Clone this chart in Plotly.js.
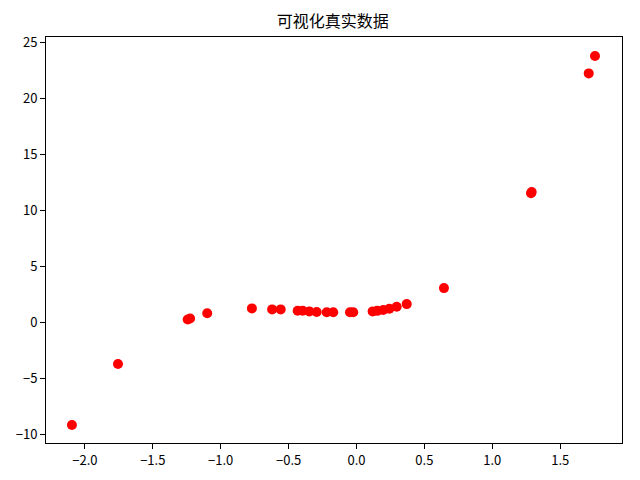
<!DOCTYPE html>
<html>
<head>
<meta charset="utf-8">
<script src="https://cdn.plot.ly/plotly-3.0.1.min.js"></script>
<style>html,body{margin:0;padding:0;background:#fff;}#chart{width:640px;height:480px;}</style>
</head>
<body>
<div id="chart"></div>
<script>
const chartTitle = "可视化真实数据";
const xValues = [-2.095, -1.756, -1.243, -1.225, -1.099, -0.770, -0.621, -0.558, -0.433, -0.396, -0.347, -0.293, -0.219, -0.171, -0.048, -0.024, 0.119, 0.153, 0.197, 0.242, 0.296, 0.370, 0.644, 1.290, 1.285, 1.710, 1.756];
const yValues = [-9.2, -3.75, 0.22, 0.32, 0.78, 1.22, 1.13, 1.13, 1.01, 1.01, 0.95, 0.89, 0.87, 0.87, 0.87, 0.87, 0.95, 1.00, 1.07, 1.19, 1.37, 1.60, 3.03, 11.6, 11.5, 22.2, 23.75];
const xTicks = [-2.0, -1.5, -1.0, -0.5, 0.0, 0.5, 1.0, 1.5];
const yTicks = [-10, -5, 0, 5, 10, 15, 20, 25];

const font = "'Noto Sans CJK SC', 'DejaVu Sans', sans-serif";
const trace = {
  x: xValues, y: yValues, type: 'scatter', mode: 'markers',
  marker: {color: '#ff0000', size: 10, line: {width: 0}}
};
const axisCommon = {
  showgrid: false, zeroline: false, showline: true, mirror: true,
  linecolor: '#000', linewidth: 1, ticks: 'outside', ticklen: 5, tickwidth: 1,
  tickcolor: '#000', tickfont: {family: font, size: 13, color: '#000'}
};
const layout = {
  width: 640, height: 480,
  margin: {l: 46, r: 18, t: 37, b: 37},
  paper_bgcolor: '#fff', plot_bgcolor: '#fff',
  showlegend: false,
  title: {text: chartTitle, font: {family: font, size: 16, color: '#000'}, x: 0.52, xanchor: 'center', y: 0.955, yanchor: 'middle'},
  xaxis: Object.assign({}, axisCommon, {range: [-2.286, 1.955], tickvals: xTicks, ticktext: xTicks.map(v => v.toFixed(1).replace('-', '\u2212'))}),
  yaxis: Object.assign({}, axisCommon, {range: [-10.8, 25.45], tickvals: yTicks, ticktext: yTicks.map(v => String(v).replace('-', '\u2212'))})
};
Plotly.newPlot('chart', [trace], layout, {displayModeBar: false, staticPlot: true});
</script>
</body>
</html>
